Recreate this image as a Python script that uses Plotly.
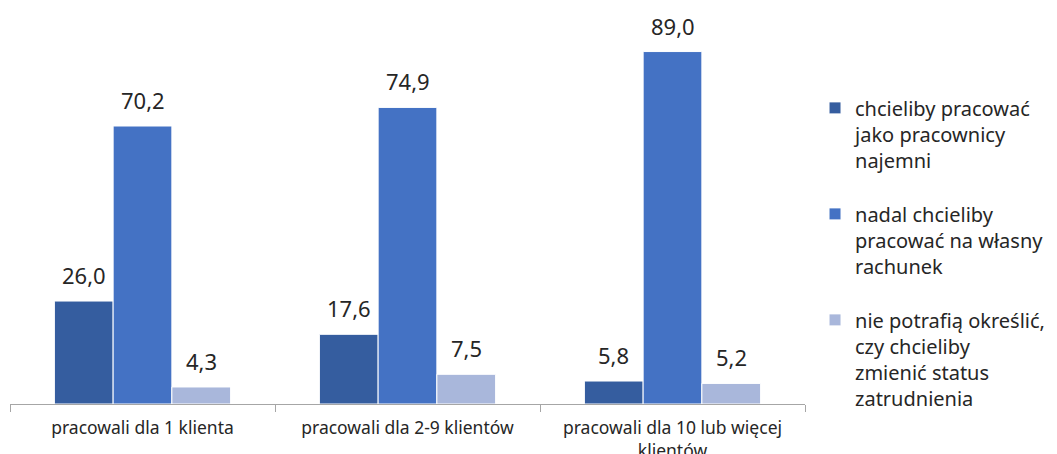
import plotly.graph_objects as go

categories = ["pracowali dla 1 klienta", "pracowali dla 2-9 klientów", "pracowali dla 10 lub więcej<br>klientów"]
series_names = [
    "chcieliby pracować<br>jako pracownicy<br>najemni",
    "nadal chcieliby<br>pracować na własny<br>rachunek",
    "nie potrafią określić,<br>czy chcieliby<br>zmienić status<br>zatrudnienia",
]
employees = [26.0, 17.6, 5.8]
own_account = [70.2, 74.9, 89.0]
undecided = [4.3, 7.5, 5.2]

colors = ["#355D9F", "#4472C4", "#A9B7DB"]
FONT = "Noto Sans"

W, H = 1057, 454
ML, MR, MT, MB = 10, 252, 8, 50
BARGAP = 0.335
plot_w = W - ML - MR
bar_px = plot_w / len(categories) * (1 - BARGAP) / 3

fig = go.Figure()
all_series = [employees, own_account, undecided]
for i, (name, vals) in enumerate(zip(series_names, all_series)):
    fig.add_trace(go.Bar(
        x=categories, y=vals, name=name, legendgroup=f"g{i}",
        marker=dict(color=colors[i], line=dict(color="white", width=1)),
        cliponaxis=False,
    ))
    for cat, v in zip(categories, vals):
        fig.add_annotation(
            x=cat, y=v, xref="x", yref="y",
            text=f"{v:.1f}".replace(".", ","),
            showarrow=False, yanchor="bottom", yshift=9,
            xshift=(i - 1) * bar_px,
            font=dict(size=22, family=FONT, color="#262626"),
        )

fig.update_layout(
    width=W, height=H,
    margin=dict(l=ML, r=MR, t=MT, b=MB, autoexpand=False),
    barmode="group", bargap=BARGAP, bargroupgap=0,
    separators=", ",
    plot_bgcolor="white", paper_bgcolor="white",
    font=dict(family=FONT, size=17, color="#262626"),
    showlegend=True,
    legend=dict(
        x=1.0126, xanchor="left", y=0.797, yanchor="top",
        font=dict(size=20, family=FONT, color="#262626"),
        tracegroupgap=25, itemwidth=30, traceorder="grouped",
        valign="top",
    ),
    xaxis=dict(
        automargin=False,
        showline=True, linecolor="#A6A6A6", linewidth=1,
        ticks="outside", tickson="boundaries", ticklen=7, tickcolor="#A6A6A6",
        tickfont=dict(size=17.5, family=FONT, color="#262626"),
        ticklabelstandoff=8,
        showgrid=False,
    ),
    yaxis=dict(range=[0, 100], visible=False, showgrid=False, automargin=False),
)

fig.write_html(
    "out.html",
    config={"displayModeBar": False},
    post_script="document.body.style.margin='0';document.body.style.overflow='hidden';",
)
